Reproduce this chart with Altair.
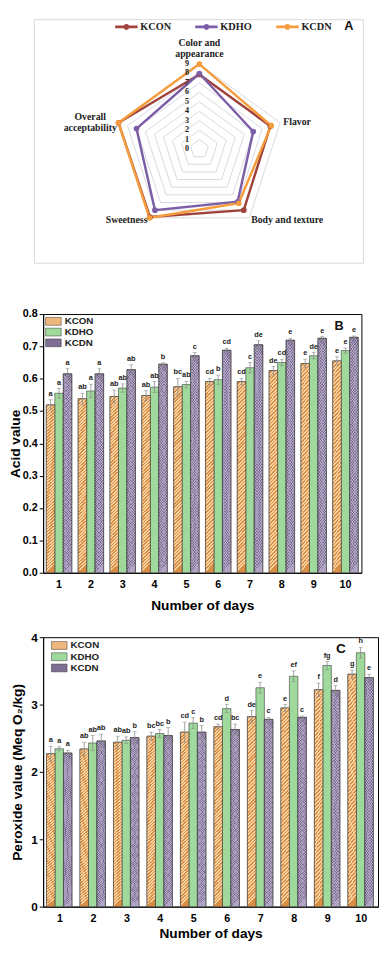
import altair as alt
import pandas as pd
import numpy as np

# ---------------- Panel A : sensory radar ----------------
attributes = ["Color and appearance", "Flavor", "Body and texture", "Sweetness", "Overall acceptability"]
samples = ["KCON", "KDHO", "KCDN"]
kcon_scores = [7.9, 7.9, 8.0, 8.9, 9.0]
kdho_scores = [8.0, 6.0, 6.9, 8.0, 7.0]
kcdn_scores = [9.0, 8.0, 7.1, 9.0, 9.0]
radar_ticks = [0, 1, 2, 3, 4, 5, 6, 7, 8, 9]
radar_colors = ["#a0433c", "#7c5ea6", "#f59c3c"]

# ---------------- Panel B : acid value ----------------
days = [1, 2, 3, 4, 5, 6, 7, 8, 9, 10]
acid_kcon = [0.519, 0.538, 0.545, 0.548, 0.575, 0.591, 0.591, 0.625, 0.647, 0.655]
acid_kdho = [0.555, 0.562, 0.571, 0.574, 0.582, 0.597, 0.634, 0.650, 0.671, 0.687]
acid_kcdn = [0.615, 0.615, 0.628, 0.645, 0.671, 0.688, 0.705, 0.719, 0.725, 0.728]
acid_kcon_sd = [0.016, 0.017, 0.020, 0.015, 0.026, 0.010, 0.010, 0.013, 0.013, 0.013]
acid_kdho_sd = [0.015, 0.021, 0.013, 0.017, 0.010, 0.014, 0.016, 0.010, 0.010, 0.008]
acid_kcdn_sd = [0.016, 0.016, 0.015, 0.004, 0.010, 0.006, 0.012, 0.006, 0.005, 0.004]
acid_kcon_sig = ["a", "ab", "ab", "ab", "bc", "cd", "cd", "de", "e", "e"]
acid_kdho_sig = ["a", "a", "ab", "ab", "ab", "b", "c", "cd", "de", "e"]
acid_kcdn_sig = ["a", "a", "ab", "b", "c", "cd", "de", "e", "e", "e"]

# ---------------- Panel C : peroxide value ----------------
perox_kcon = [2.27, 2.34, 2.44, 2.53, 2.59, 2.67, 2.82, 2.95, 3.22, 3.45]
perox_kdho = [2.345, 2.43, 2.47, 2.57, 2.725, 2.94, 3.25, 3.42, 3.58, 3.77]
perox_kcdn = [2.28, 2.46, 2.51, 2.54, 2.59, 2.63, 2.78, 2.81, 3.21, 3.40]
perox_kcon_sd = [0.11, 0.10, 0.09, 0.06, 0.15, 0.04, 0.09, 0.05, 0.10, 0.06]
perox_kdho_sd = [0.03, 0.11, 0.05, 0.06, 0.08, 0.06, 0.08, 0.08, 0.06, 0.08]
perox_kcdn_sd = [0.04, 0.10, 0.09, 0.12, 0.10, 0.08, 0.03, 0.02, 0.07, 0.05]
perox_kcon_sig = ["a", "ab", "ab", "bc", "cd", "cd", "de", "e", "f", "g"]
perox_kdho_sig = ["a", "ab", "ab", "bc", "c", "d", "e", "ef", "fg", "h"]
perox_kcdn_sig = ["a", "ab", "b", "b", "b", "bc", "c", "c", "d", "e"]

bar_fills = ["#efb77c", "#9fd99b", "#7d6e92"]

SERIF = "Liberation Serif"
SANS = "Liberation Sans"

# ================= Panel A =================
K = 9.67            # px per score unit
A_W, A_H = 327, 278
CX, CY = 160, 133   # radar centre inside plot area (px)
xs = alt.Scale(domain=[-CX / K, (A_W - CX) / K], nice=False, zero=False)
ys = alt.Scale(domain=[-(A_H - CY) / K, CY / K], nice=False, zero=False)

angles = [np.pi / 2 - i * 2 * np.pi / 5 for i in range(5)]

radar_rows = []
for s, vals in zip(samples, [kcon_scores, kdho_scores, kcdn_scores]):
    for k in range(6):
        i = k % 5
        radar_rows.append({"sample": s, "k": k, "attr": attributes[i], "score": vals[i],
                           "x": vals[i] * np.cos(angles[i]), "y": vals[i] * np.sin(angles[i])})
radar_df = pd.DataFrame(radar_rows)

ring_rows = []
for r in radar_ticks[1:]:
    for k in range(6):
        i = k % 5
        ring_rows.append({"ring": r, "k": k, "x": r * np.cos(angles[i]), "y": r * np.sin(angles[i])})
ring_df = pd.DataFrame(ring_rows)

tick_df = pd.DataFrame({"v": radar_ticks, "x": [-1.3] * len(radar_ticks), "t": [str(v) for v in radar_ticks]})

X = lambda f: alt.X(f, type="quantitative", scale=xs, axis=None)
Y = lambda f: alt.Y(f, type="quantitative", scale=ys, axis=None)

frame = alt.Chart(pd.DataFrame({"a": [0]})).mark_rect(fill=None, stroke="#d9d9d9", strokeWidth=1).encode(
    x=alt.value(-9), x2=alt.value(328), y=alt.value(0.5), y2=alt.value(250))

rings = alt.Chart(ring_df).mark_line(color="#d8d8e4", strokeWidth=1).encode(
    x=X("x"), y=Y("y"), detail="ring:N", order="k:Q")

# legend symbol: line with a dot, 23 px long drawn around a 6 px nominal symbol
leg_path = "M-3.83,0H3.83M0.5,0A0.5,0.5,0,1,1,-0.5,0A0.5,0.5,0,1,1,0.5,0"
radar_color = alt.Color("sample:N", scale=alt.Scale(domain=samples, range=radar_colors),
                        legend=alt.Legend(orient="none", direction="horizontal", legendX=80, legendY=2.5,
                                          title=None, symbolType=leg_path, symbolSize=36,
                                          symbolStrokeWidth=3, labelFont=SERIF, labelFontWeight="bold",
                                          labelFontSize=10.5, labelColor="#222", columnPadding=18,
                                          labelOffset=9, padding=0))
lines = alt.Chart(radar_df).mark_line(strokeWidth=2.5).encode(
    x=X("x"), y=Y("y"), color=radar_color, order="k:Q")
points = alt.Chart(radar_df[radar_df.k < 5]).mark_circle(size=34, opacity=1).encode(
    x=X("x"), y=Y("y"),
    color=alt.Color("sample:N", scale=alt.Scale(domain=samples, range=radar_colors), legend=None))

ticks_txt = alt.Chart(tick_df).mark_text(font=SERIF, fontWeight="bold", fontSize=8.3, color="#222",
                                         baseline="middle", align="center").encode(
    x=X("x"), y=Y("v"), text="t:N")

LR = 9.35
def attr_label(i, text, align, r=LR, dx=0, dy=0):
    d = pd.DataFrame({"x": [r * np.cos(angles[i])], "y": [r * np.sin(angles[i])], "t": [text]})
    return alt.Chart(d).mark_text(font=SERIF, fontWeight="bold", fontSize=10, color="#222",
                                  align=align, baseline="middle",
                                  dx=dx, dy=dy).encode(x=X("x"), y=Y("y"), text="t:N")

lab0a = attr_label(0, "Color and", "center", r=9, dy=-21.5)
lab0b = attr_label(0, "appearance", "center", r=9, dy=-10.5)
lab1 = attr_label(1, "Flavor", "left")
lab2 = attr_label(2, "Body and texture", "left")
lab3 = attr_label(3, "Sweetness", "right")
lab4a = attr_label(4, "Overall", "center", r=9, dx=-29, dy=-6)
lab4b = attr_label(4, "acceptability", "center", r=9, dx=-29, dy=5)

tagA = alt.Chart(pd.DataFrame({"t": ["A"]})).mark_text(font=SANS, fontWeight="bold", fontSize=13,
                                                      color="#111").encode(
    x=alt.value(313), y=alt.value(7), text="t:N")

panelA = alt.layer(frame, rings, lines, points, ticks_txt, lab0a, lab0b, lab1, lab2, lab3, lab4a, lab4b,
                   tagA).properties(width=A_W, height=A_H, view=alt.ViewBackground(stroke=None))


# ================= Bar panels =================
def long_df(vals, sds, sigs):
    rows = []
    for s, v, sd, sg in zip(samples, vals, sds, sigs):
        for d, a, b, c in zip(days, v, sd, sg):
            rows.append({"day": d, "series": s, "value": a, "lo": a - b, "hi": a + b, "sig": c})
    return pd.DataFrame(rows)


def stripes(base, line, cycles, frac, x1, x2):
    stops = []
    for c in range(cycles):
        o = c / cycles
        stops += [alt.GradientStop(color=base, offset=o),
                  alt.GradientStop(color=base, offset=o + (1 - frac) / cycles),
                  alt.GradientStop(color=line, offset=o + (1 - frac) / cycles),
                  alt.GradientStop(color=line, offset=(c + 1) / cycles)]
    return alt.LinearGradient(gradient="linear", stops=stops, x1=x1, y1=0, x2=x2, y2=1)


kcon_hatch = stripes("#f9d3a2", "#d98e45", 55, 0.45, 0, 0.045)
kcdn_up = stripes("rgba(0,0,0,0)", "rgba(205,195,225,0.55)", 75, 0.4, 0, 0.045)
kcdn_down = stripes("rgba(0,0,0,0)", "rgba(205,195,225,0.55)", 75, 0.4, 0.045, 0)


def bar_panel(df, ymax, yvals, yfmt, ytitle, tag, W, H, legxy, legrow, tagxy, tagsize, ylabsize,
              ytitlepad, xtitlepad):
    xenc = alt.X("day:O", scale=alt.Scale(paddingInner=0.2, paddingOuter=0.1),
                 axis=alt.Axis(title="Number of days", labelAngle=0, ticks=False, labelPadding=6,
                               titlePadding=xtitlepad, labelFont=SANS, labelFontWeight="bold",
                               labelFontSize=11, titleFont=SANS, titleFontWeight="bold", titleFontSize=14))
    xoff = alt.XOffset("series:N", sort=samples,
                       scale=alt.Scale(domain=samples, paddingInner=0, paddingOuter=0))
    yaxis = alt.Axis(title=ytitle, values=yvals, format=yfmt, tickSize=4, labelPadding=2,
                     titlePadding=ytitlepad, labelFont=SANS, labelFontWeight="bold", labelFontSize=ylabsize,
                     titleFont=SANS, titleFontWeight="bold", titleFontSize=14, grid=False)
    yscale = alt.Scale(domain=[0, ymax], nice=False, zero=True)
    yv = alt.Y("value:Q", scale=yscale, axis=yaxis)
    base = alt.Chart(df)
    bars = base.mark_bar(stroke="#3a3a3a", strokeWidth=0.6).encode(
        x=xenc, xOffset=xoff, y=yv,
        color=alt.Color("series:N", scale=alt.Scale(domain=samples, range=bar_fills),
                        legend=alt.Legend(orient="none", legendX=legxy[0], legendY=legxy[1], title=None,
                                          symbolType="M-2,-1H2V1H-2Z", symbolSize=64,
                                          symbolStrokeColor="#333", symbolStrokeWidth=0.5,
                                          labelFont=SANS, labelFontWeight="bold", labelFontSize=10,
                                          labelColor="#222", rowPadding=legrow, labelOffset=6.5,
                                          padding=0)))
    kcon_only = base.transform_filter(alt.datum.series == "KCON")
    kcdn_only = base.transform_filter(alt.datum.series == "KCDN")
    hatched = kcon_only.mark_bar(fill=kcon_hatch, stroke="#3a3a3a", strokeWidth=0.6).encode(
        x=xenc, xOffset=xoff, y=yv)
    dots1 = kcdn_only.mark_bar(fill=kcdn_up, strokeWidth=0).encode(x=xenc, xOffset=xoff, y=yv)
    dots2 = kcdn_only.mark_bar(fill=kcdn_down, stroke="#3a3a3a", strokeWidth=0.6).encode(
        x=xenc, xOffset=xoff, y=yv)
    err = base.mark_rule(color="#8a8a8a", strokeWidth=0.8).encode(
        x=xenc, xOffset=xoff, y=alt.Y("lo:Q", scale=yscale, axis=yaxis), y2="hi:Q")
    cap_hi = base.mark_tick(color="#8a8a8a", thickness=0.8, size=4, orient="horizontal").encode(
        x=xenc, xOffset=xoff, y=alt.Y("hi:Q", scale=yscale, axis=yaxis))
    cap_lo = base.mark_tick(color="#8a8a8a", thickness=0.8, size=4, orient="horizontal").encode(
        x=xenc, xOffset=xoff, y=alt.Y("lo:Q", scale=yscale, axis=yaxis))
    letters = base.mark_text(font=SANS, fontWeight="bold", fontSize=7.5, color="#222", baseline="bottom",
                             dy=-2).encode(
        x=xenc, xOffset=xoff, y=alt.Y("hi:Q", scale=yscale, axis=yaxis), text="sig:N")
    tagc = alt.Chart(pd.DataFrame({"t": [tag]})).mark_text(font=SANS, fontWeight="bold", fontSize=tagsize,
                                                           color="#111").encode(
        x=alt.value(tagxy[0]), y=alt.value(tagxy[1]), text="t:N")
    return alt.layer(bars, hatched, dots1, dots2, err, cap_hi, cap_lo, letters, tagc).properties(
        width=W, height=H)


acid_df = long_df([acid_kcon, acid_kdho, acid_kcdn], [acid_kcon_sd, acid_kdho_sd, acid_kcdn_sd],
                  [acid_kcon_sig, acid_kdho_sig, acid_kcdn_sig])
perox_df = long_df([perox_kcon, perox_kdho, perox_kcdn], [perox_kcon_sd, perox_kdho_sd, perox_kcdn_sd],
                   [perox_kcon_sig, perox_kdho_sig, perox_kcdn_sig])

acid_ticks = [0.0, 0.1, 0.2, 0.3, 0.4, 0.5, 0.6, 0.7, 0.8]
perox_ticks = [0, 1, 2, 3, 4]

panelB = bar_panel(acid_df, 0.8, acid_ticks, ".1f", "Acid value", "B", 326, 265,
                   (5.5, 2.5), 1, (303, 12), 13, 11, 0, 10)
panelC = bar_panel(perox_df, 4, perox_ticks, "d", "Peroxide value (Meq O\u2082/kg)", "C", 343, 276,
                   (11.5, 3.5), 1.5, (305, 12), 14, 12, 6, 4)

chart = alt.vconcat(panelA, panelB, panelC, spacing=17).resolve_scale(
    color="independent").properties(padding=0).configure_view(
    stroke="black", strokeWidth=1).configure_axis(
    domainColor="black", tickColor="black", labelColor="black", titleColor="black")

chart.save("out.html", embed_options={"renderer": "svg", "actions": False})
